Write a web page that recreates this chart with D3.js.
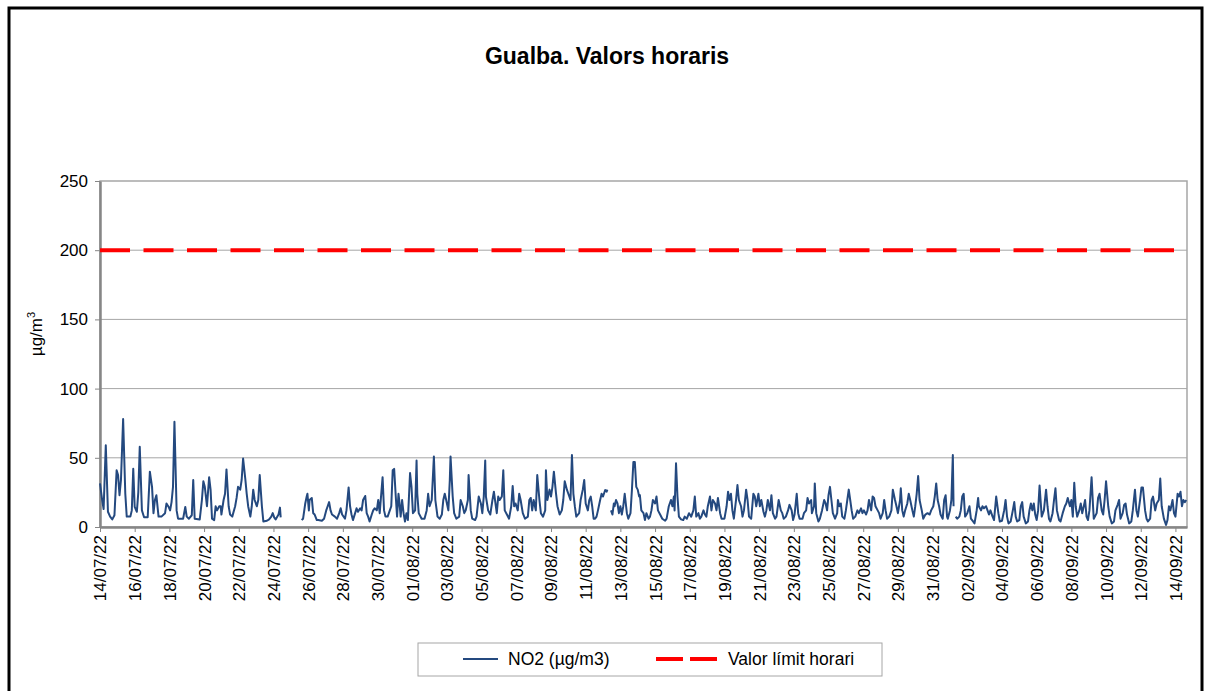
<!DOCTYPE html>
<html>
<head>
<meta charset="utf-8">
<title>Gualba. Valors horaris</title>
<script src="https://cdn.jsdelivr.net/npm/d3@7"></script>
<style>
  body { margin: 0; background: #fff; }
  svg { display: block; font-family: "Liberation Sans", Arial, sans-serif; }
  .grid line { stroke: #a6a6a6; stroke-width: 1; }
  .axis path, .axis line { stroke: #868686; }
  .axis path { stroke-width: 2.5; }
  .axis text { fill: #000; font-size: 17px; }
  .no2 { fill: none; stroke: #24497f; stroke-width: 2; stroke-linejoin: round; }
  .limit { stroke: #ff0000; stroke-width: 4; stroke-dasharray: 30 13.5; }
</style>
</head>
<body>
<svg id="chart" width="1212" height="691"></svg>
<script>
// hourly NO2: [hours since 14/07/22 00:00, µg/m3]
// one array per continuous stretch (gaps = missing data)
var no2Part1 = [
  [0,31.5],[3,19.5],[5,13],[8,59],[11,11],[14,7.5],[17,5.5],[20,8.5],[23,41],[25,37.5],
  [27,23],[29,34],[32,78],[35,24],[37,7.5],[42,7.5],[44,12],[46,42],[48,14.5],[51,11],
  [53,25],[55,58],[58,12],[61,7],[66,7],[69,40],[72,29],[74,10],[76,19.5],[78,23],
  [81,7.5],[85,7.5],[90,10],[92,17],[95,14.5],[97,12],[99,18],[101,29],[103,76],[106,12],
  [108,6],[113,6],[115,6],[118,14.5],[120,7.5],[123,6],[127,8.5],[129,34],
  [131,6],[138,5.5],[141,19.5],[143,33],[145,29],[148,15],[151,36],[153,27],[155,6],[158,5],
  [160,15],[162,12],[165,15],[167,15],[168,9],[171,19.5],[173,24],[175,41.6],[178,15],[180,9],
  [183,7.5],[187,15],[189,21],[191,29],[194,27],[196,34],[198,49.5],[201,35],[203,24],[205,15],
  [208,7.5],[210,15],[212,27],[214,19.5],[217,15],[219,19.5],[221,37.5],[224,15],[226,4],[231,4.5],
  [234,5.5],[237,7.5],[239,10],[241,7],[243,5.5],[247,9],[249,14],[250,7]
];
var no2Part2 = [
  [279,5],[281,6],[284,17],[286,22],[287,24],[289,12],[290,19.5],[293,21],[295,10],[297,9],
  [300,5],[302,5],[307,4.5],[310,6],[313,12],[315,15],[317,18],[319,12],[321,9],[325,7.5],
  [328,6],[331,10],[333,13.5],[335,9],[339,6],[341,12],[344,28.6],[346,15],[348,9],[350,5],
  [353,10],[355,13.5],[357,11],[360,13.5],[362,12],[364,19.5],[367,22.4],[369,10],[371,7.5],[373,4],
  [376,9],[378,12],[380,13.5],[383,12],[385,19.5],[387,10],[391,36],[393,12],[395,7.5],[398,7.5],
  [401,12],[403,15],[405,41],[407,42],
  [409,24],[411,7.5],[413,24],[414,19.5],[416,7.5],[418,19.5],[420,10],[422,4],[424,10],[426,5],
  [429,39],[431,29],[433,10],[436,12],[438,48],[439,24],[441,10],[445,6],[449,6],[452,12],
  [454,24],[456,15],[459,19.5],[462,51],[464,19.5],[467,7.5],[470,6],[473,9],[475,19.5],[477,24],
  [479,19.5],[482,12],[484,34],[485,51],[488,22],[490,10],[493,6],[497,7.5],[499,19.5],[502,15],
  [504,10],[506,12],[509,19.5],[510,37.5],[513,12],[515,6],[519,5],[521,7.5],[524,22],[527,17],
  [529,10],[531,22],[533,48],[534,22],[537,12],[540,9],[543,19.5],[545,25.5],
  [549,10],[551,22],[553,19.5],[556,22],[558,41],[560,12],[563,9],[566,6],[569,15],[571,29.6],
  [573,15],[575,17],[578,12],[580,24],[582,19.5],[585,10],[588,6],[592,7.5],[594,19.5],[596,21],
  [598,12],[600,19.5],[603,12],[605,37.5],[608,19.5],[610,10],[613,7.5],[616,12],[617,41],[619,19.5],
  [622,27],[624,22],[626,29],[628,40],[631,24],[633,15],[636,9],[639,12],[641,19.5],[643,33],
  [646,27],[648,24],[651,19.5],[653,52],[655,24],[657,15],[659,7.5],[663,10],[665,19.5],[668,27],
  [670,34],[672,17],[675,12],[677,19.5],[679,22],[681,15],[683,6],
  [685,6],[687,7.5],[689,12],[692,19.5],[694,24],[696,22],[699,26.7],[701,25.5],[702,27]
];
var no2Part3 = [
  [707,12],[709,9],[711,17],[712,15],[714,19.5],[716,17],[718,10],[720,15],[722,9],[724,15],
  [726,24],[729,10],[731,6],[734,10],[736,27],[738,47],[740,47],[742,29],[744,27],[746,22],
  [747,23],[749,12],[752,10],[754,5],[756,10],[759,6],[761,7.5],[763,12],[765,19.5],[768,17],
  [770,22],[772,12],[775,9],[778,6],[782,4.5],[784,6],[787,15],[790,19.5],[792,15],[794,22],
  [795,12],[797,46],[799,22],[801,7.5],[804,5.5],[807,5],[809,7.5],[812,6],[815,10],[818,7.5],
  [821,12],[823,22],
  [825,7.5],[828,10],[830,6],[832,7.5],[835,12],[837,9],[839,7.5],[841,15],[844,22],[846,12],
  [848,19.5],[851,17],[853,12],[855,21],[858,10],[860,6],[864,6],[867,15],[869,25.5],[871,19.5],
  [873,24],[875,12],[877,6],[880,19.5],[882,30.3],[884,19.5],[887,15],[889,7.5],[891,12],[894,27],
  [896,19.5],[898,7.5],[901,6],[904,24],[906,22],[908,15],[911,24],[913,15],[915,19.5],[918,11],
  [920,7.5],[922,12],[924,19.5],[927,12],[929,23],[931,10],[934,6],[936,7.5],[939,19.5],[942,12],
  [944,10],[946,6],[949,7.5],[952,12],[954,16],[957,12],[959,5],[961,9],
  [964,24],[966,10],[968,6],[972,6],[974,10],[977,12],[979,21],[981,17],[984,19.5],[985,10],
  [988,15],[989,31.5],[991,10],[994,4],[996,6],[999,12],[1002,19.5],[1004,17],[1006,12],[1008,23],
  [1010,29],[1012,19.5],[1014,10],[1017,6],[1020,10],[1021,19.5],[1023,15],[1025,17],[1027,7.5],[1030,6],
  [1032,12],[1034,19.5],[1036,27],[1038,19.5],[1040,12],[1042,6],[1045,7.5],[1048,12],[1050,10],[1053,13.5],
  [1055,10],[1057,12],[1060,9],[1062,12],[1064,19.5],[1067,12],[1069,22],[1071,21],[1073,15],[1076,12],
  [1078,10],[1080,6],[1083,10],[1085,19.5],[1087,12],[1089,6],[1092,7.5],[1095,12],[1097,27],[1100,19.5],
  [1102,15],[1104,10],[1107,19.5],[1108,28],[1110,12],[1112,7.5],[1114,12],[1117,17],[1119,24],[1121,19.5],
  [1124,12],[1126,7.5],[1128,15],[1130,24],[1132,36.8],[1134,19.5],[1137,12],[1139,6],[1142,9],[1145,10],
  [1148,9],[1150,12],[1153,15],[1155,22],[1157,31.5],[1159,19.5],[1161,15],[1163,9],[1166,6],[1168,19.5],
  [1170,23],[1172,7.5],[1173,6],[1176,12],[1178,19.5],[1180,52],[1181,15]
];
var no2Part4 = [
  [1184,7.5],[1186,6],[1189,7.5],[1191,12],[1193,22],[1195,24],[1197,7.5],[1200,10],[1203,15],[1205,6],
  [1208,4],[1210,2.6],[1213,12],[1215,21],[1216,15],[1219,12],[1221,15],[1223,13.5],[1226,15],[1228,12],
  [1230,9],[1232,12],[1235,7.5],[1237,5],
  [1240,22],[1243,10],[1245,4],[1248,4.5],[1251,12],[1253,19.5],[1255,7.5],[1257,2.6],[1260,4],[1263,12],
  [1265,18],[1267,7.5],[1269,4],[1272,5],[1274,15],[1276,18],[1278,7.5],[1281,2.6],[1284,4],[1286,12],
  [1288,17],[1290,12],[1292,17],[1294,9],[1296,5],[1298,12],[1300,30],[1302,15],[1303,7.5],[1306,12],
  [1309,27],[1311,15],[1313,6],[1315,4],[1318,10],[1320,19.5],[1322,28],[1324,12],[1327,5],[1329,4],
  [1332,10],[1335,15],[1337,17],[1339,21],[1342,15],[1344,19.5],[1346,7.5],[1348,32],[1350,15],[1352,7.5],
  [1355,12],[1357,17],[1359,10],[1362,17],[1363,19.5],[1365,7.5],[1367,5],[1369,12],[1372,36],[1374,15],
  [1375,6],
  [1379,10],[1381,21],[1383,24],[1386,12],[1388,9],[1390,19.5],[1392,33],[1395,15],[1397,7.5],[1400,2.6],
  [1403,4],[1405,12],[1408,16],[1410,19.5],[1412,6],[1415,10],[1417,16],[1419,17],[1421,9],[1424,2.6],
  [1427,4],[1429,12],[1432,27],[1434,12],[1436,7.5],[1439,19.5],[1441,28.6],[1443,28.6],[1446,12],[1448,6],
  [1450,4],[1453,6],[1455,19.5],[1457,22],[1460,12],[1462,17],[1465,19.5],[1467,35],[1469,15],[1472,6],
  [1475,1.5],[1477,5],[1479,15],[1481,12],[1484,19.5],[1486,10],[1488,7.5],[1491,24],[1493,22],[1495,25.5],
  [1497,15],[1499,19.5],[1501,18],[1503,19.5]
];

var limitValue = 200;   // Valor límit horari
var yTicks = [0, 50, 100, 150, 200, 250];
var dateTicks = ['14/07/22','16/07/22','18/07/22','20/07/22','22/07/22','24/07/22','26/07/22','28/07/22',
  '30/07/22','01/08/22','03/08/22','05/08/22','07/08/22','09/08/22','11/08/22','13/08/22','15/08/22',
  '17/08/22','19/08/22','21/08/22','23/08/22','25/08/22','27/08/22','29/08/22','31/08/22','02/09/22',
  '04/09/22','06/09/22','08/09/22','10/09/22','12/09/22','14/09/22'];
var lastHour = 1504;

var title = 'Gualba. Valors horaris';
var seriesName = 'NO2 (µg/m3)';
var limitName = 'Valor límit horari';

var svg = d3.select('#chart');
// note: "top" is taken by window.top, so plot edges get a prefix
var plotL = 100, plotR = 1187, plotT = 181, plotB = 527;

var parse = d3.timeParse('%d/%m/%y');
var start = parse(dateTicks[0]);
var toDate = h => new Date(start.getTime() + h * 3600e3);

var x = d3.scaleTime()
  .domain([start, toDate(lastHour)])
  .range([plotL, plotR]);
var y = d3.scaleLinear()
  .domain([0, 250])
  .range([plotB, plotT]);

// outer frame
svg.append('rect')
  .attr('x', 9).attr('y', 8)
  .attr('width', 1193).attr('height', 720)
  .attr('fill', '#fff')
  .attr('stroke', '#000')
  .attr('stroke-width', 3);

svg.append('text')
  .attr('x', 607).attr('y', 64)
  .attr('text-anchor', 'middle')
  .style('font-size', '23px')
  .style('font-weight', 'bold')
  .text(title);

// gridlines
svg.append('g').attr('class', 'grid')
  .selectAll('line')
  .data(yTicks.slice(1, -1))
  .enter().append('line')
  .attr('x1', plotL).attr('x2', plotR)
  .attr('y1', d => y(d)).attr('y2', d => y(d));

// plot border
svg.append('rect')
  .attr('x', plotL).attr('y', plotT)
  .attr('width', plotR - plotL).attr('height', plotB - plotT)
  .attr('fill', 'none')
  .attr('stroke', '#a6a6a6')
  .attr('stroke-width', 1.5);

svg.append('g').attr('class', 'axis')
  .attr('transform', 'translate(' + plotL + ',0)')
  .call(d3.axisLeft(y).tickValues(yTicks).tickSize(5).tickSizeOuter(0).tickPadding(7));

var xAxis = svg.append('g').attr('class', 'axis')
  .attr('transform', 'translate(0,' + plotB + ')')
  .call(d3.axisBottom(x)
    .tickValues(dateTicks.map(parse))
    .tickFormat(d3.timeFormat('%d/%m/%y'))
    .tickSize(5).tickSizeOuter(0));

xAxis.selectAll('text')
  .attr('transform', 'rotate(-90)')
  .attr('text-anchor', 'end')
  .attr('x', -8)
  .attr('y', 0)
  .attr('dy', '0.35em');

// limit line
svg.append('line')
  .attr('class', 'limit')
  .attr('x1', plotL).attr('x2', plotR)
  .attr('y1', y(limitValue)).attr('y2', y(limitValue));

var line = d3.line()
  .x(d => x(toDate(d[0])))
  .y(d => y(d[1]));

svg.selectAll('path.no2')
  .data([no2Part1, no2Part2, no2Part3, no2Part4])
  .enter().append('path')
  .attr('class', 'no2')
  .attr('d', line);

// y title
svg.append('text')
  .attr('transform', 'translate(42,334) rotate(-90)')
  .attr('text-anchor', 'middle')
  .style('font-size', '17px')
  .html('µg/m<tspan dy="-7" font-size="11px">3</tspan>');

// legend
var lg = svg.append('g');
lg.append('rect')
  .attr('x', 418).attr('y', 643)
  .attr('width', 464).attr('height', 33)
  .attr('fill', '#fff')
  .attr('stroke', '#a6a6a6');
lg.append('line')
  .attr('class', 'no2')
  .attr('x1', 463).attr('x2', 498).attr('y1', 659).attr('y2', 659);
lg.append('text')
  .attr('x', 508).attr('y', 665)
  .style('font-size', '17.5px')
  .text(seriesName);
lg.append('line')
  .attr('class', 'limit')
  .style('stroke-dasharray', '27 7')
  .attr('x1', 656).attr('x2', 718).attr('y1', 659).attr('y2', 659);
lg.append('text')
  .attr('x', 728).attr('y', 665)
  .style('font-size', '17.5px')
  .text(limitName);
</script>
</body>
</html>
